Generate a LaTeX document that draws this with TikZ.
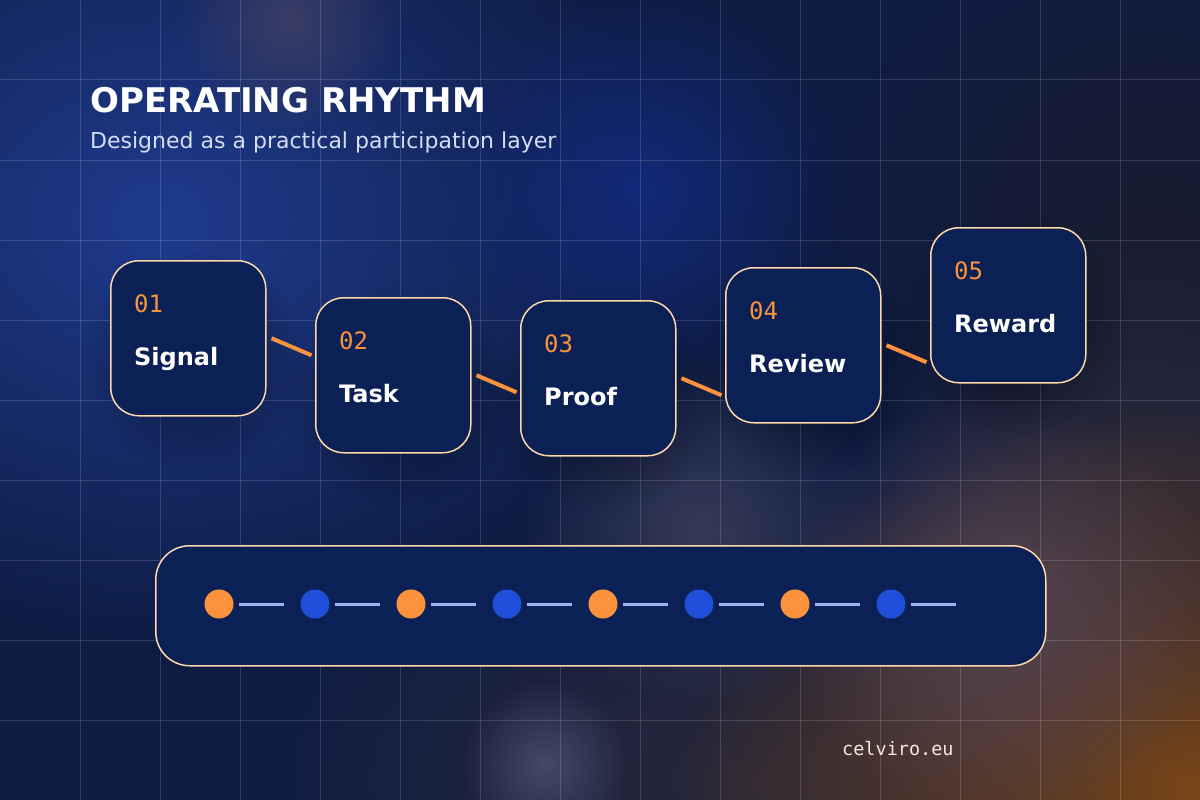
\documentclass[tikz,border=0pt]{standalone}
\usepackage{fontspec}
\setmainfont{DejaVu Sans}
\setmonofont{DejaVu Sans Mono}
\usepackage{tikz}
\usetikzlibrary{calc,fadings}

\definecolor{navy}{HTML}{0B2155}
\definecolor{peach}{HTML}{FED7AA}
\definecolor{accent}{HTML}{FB923C}
\definecolor{beadblue}{HTML}{1F4FD8}
\definecolor{track}{HTML}{9DB4EA}
\definecolor{subtle}{HTML}{D3DDF4}
\definecolor{footer}{HTML}{F6E6D8}
% backdrop tones
\definecolor{deep}{HTML}{0E1C44}
\definecolor{glowblue}{HTML}{1F3B8E}
\definecolor{glowmid}{HTML}{12297A}
\definecolor{shade}{HTML}{181B2E}
\definecolor{dusk}{HTML}{2A2838}
\definecolor{rust}{HTML}{7A4516}
\definecolor{haze}{HTML}{3A3D66}
\definecolor{smoke}{HTML}{353A58}
\definecolor{mauve}{HTML}{544452}
\definecolor{mist}{HTML}{434A6A}

\tikzfading[name=softglow, inner color=transparent!0, outer color=transparent!100]

\begin{document}
\begin{tikzpicture}[x=1pt,y=-1pt,
  stepbox/.style={draw=peach,line width=1.5pt,fill=navy,rounded corners=28pt,
                  minimum width=155pt,minimum height=155pt,anchor=north west},
  num/.style={anchor=base west,inner sep=0pt,text=accent,
              font=\fontsize{24}{28}\selectfont\ttfamily},
  lbl/.style={anchor=base west,inner sep=0pt,text=white,
              font=\fontsize{24}{28}\selectfont\bfseries},
  link/.style={accent,line width=4pt},
  bead/.style={circle,fill=#1,minimum size=29pt,inner sep=0pt},
  trk/.style={track,line width=3pt},
  blob/.style={fill=#1,path fading=softglow}]

  \useasboundingbox (0,0) rectangle (1200,800);

  % backdrop: dark navy with soft glows
  \fill[deep] (0,0) rectangle (1200,800);
  \fill[blob=glowblue] (160,220) ellipse (520pt and 420pt);
  \fill[blob=glowmid] (640,190) circle (200pt);
  \fill[blob=shade] (1160,220) ellipse (360pt and 320pt);
  \fill[blob=dusk] (760,780) ellipse (520pt and 300pt);
  \fill[blob=dusk] (1150,460) ellipse (300pt and 260pt);
  \fill[blob=rust] (1200,790) ellipse (520pt and 380pt);
  \fill[blob=haze] (290,20) circle (115pt);
  \fill[blob=smoke] (700,530) circle (180pt);
  \fill[blob=mauve] (1000,610) circle (220pt);
  \fill[blob=mist] (545,765) circle (85pt);

  % grid
  \foreach \gx in {80,160,...,1120}
    \draw[white,opacity=0.15,line width=1pt] (\gx,0) -- (\gx,800);
  \foreach \gy in {80,160,...,720}
    \draw[white,opacity=0.15,line width=1pt] (0,\gy) -- (1200,\gy);

  % heading
  \node[anchor=base west,inner sep=0pt,text=white,
        font=\fontsize{34}{40}\selectfont\bfseries] (title) at (90,113) {OPERATING RHYTHM};
  \node[anchor=base west,inner sep=0pt,text=subtle,
        font=\fontsize{22}{26}\selectfont] (subtitle) at (90,148) {Designed as a practical participation layer};

  % soft shadows under the steps
  \foreach \xx/\yy in {110/260, 315/297, 520/300, 725/267, 930/227}
    \fill[blob=black,opacity=0.45] ({\xx+85},{\yy+100}) ellipse (115pt and 110pt);

  % the five steps
  \foreach \i/\name/\xx/\yy in {1/Signal/110/260, 2/Task/315/297, 3/Proof/520/300,
                               4/Review/725/267, 5/Reward/930/227} {
    \node[stepbox] (s\i) at (\xx,\yy) {};
    \node[num] (n\i) at ($(s\i.north west)+(24,52)$) {0\i};
    \node[lbl] (l\i) at ($(s\i.north west)+(24,105)$) {\name};
  }

  % short links leaving each step
  \foreach \i in {1,...,4} {
    \coordinate (a\i) at ($(s\i.east)+(5,0)$);
    \coordinate (z\i) at ($(a\i)+(40,17)$);
    \draw[link] (a\i) -- (z\i);
  }

  % rail with alternating beads
  \node[draw=peach,line width=1.5pt,fill=navy,rounded corners=34pt,anchor=north west,
        minimum width=890pt,minimum height=120pt] (rail) at (155,545) {};
  \foreach \k/\col in {0/accent, 1/beadblue, 2/accent, 3/beadblue,
                       4/accent, 5/beadblue, 6/accent, 7/beadblue} {
    \node[bead=\col] (b\k) at ({219+96*\k},604) {};
    \draw[trk] ($(b\k.center)+(20,0)$) -- ++(45,0);
  }

  \node[anchor=base west,inner sep=0pt,text=footer,
        font=\fontsize{18.5}{21}\selectfont\ttfamily] (site) at (842,755) {celviro.eu};

\end{tikzpicture}
\end{document}
